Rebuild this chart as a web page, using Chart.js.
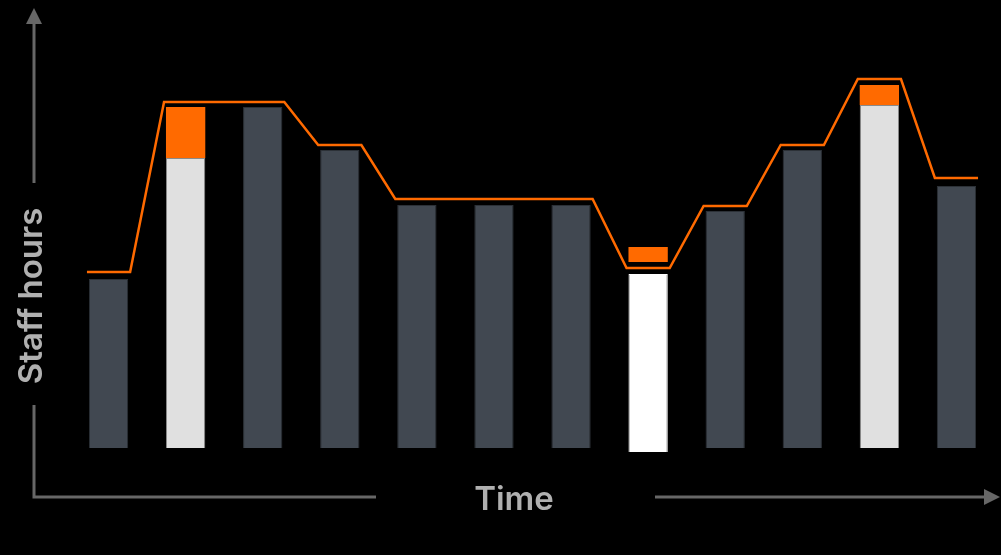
<!DOCTYPE html>
<html>
<head>
<meta charset="utf-8">
<script src="https://cdn.jsdelivr.net/npm/chart.js@4.4.1/dist/chart.umd.min.js"></script>
<style>
  html, body { margin: 0; padding: 0; background: #000; }
  #wrap { width: 1001px; height: 555px; position: relative; }
</style>
</head>
<body>
<div id="wrap"><canvas id="chart"></canvas></div>
<script>
// time slots along the x axis
const slots = ['1', '2', '3', '4', '5', '6', '7', '8', '9', '10', '11', '12'];
// kind of each slot: past / adjusted / now
const slotKind = ['past', 'adjusted', 'past', 'past', 'past', 'past', 'past', 'now', 'past', 'past', 'adjusted', 'past'];
// scheduled staff hours (bar start, bar end)
const scheduledStart = [0, 0, 0, 0, 0, 0, 0, -1, 0, 0, 0, 0];
const scheduledEnd = [42.25, 72.5, 85.25, 74.5, 60.75, 60.75, 60.75, 43.5, 59.25, 74.5, 85.75, 65.5];
// extra hours added on top (orange)
const extraStart = [null, 72.5, null, null, null, null, null, 46.5, null, null, 85.75, null];
const extraEnd = [null, 85.25, null, null, null, null, null, 50.25, null, null, 90.75, null];
// forecast demand (orange step line)
const demand = [44, 86.5, 86.5, 75.75, 62.25, 62.25, 62.25, 45, 60.5, 75.75, 92.25, 67.5];

const fillFor = { past: '#414851', adjusted: '#e0e0e0', now: '#ffffff' };
const edgeFor = { past: '#2c3137', adjusted: '#8a8a8a', now: '#ffffff' };
const ORANGE = '#ff6a00';
const GREY = '#676767';

// each demand level spans the bar width as a flat step
const demandPoints = demand.flatMap((v, i) => [{ x: i - 0.28, y: v }, { x: i + 0.28, y: v }]);

const axisArrows = {
  id: 'axisArrows',
  afterDraw(chart) {
    const c = chart.ctx;
    c.save();
    c.strokeStyle = GREY;
    c.fillStyle = GREY;
    c.lineWidth = 3;
    c.lineCap = 'butt';
    // y axis, upper part with arrow
    c.beginPath();
    c.moveTo(34, 183); c.lineTo(34, 22);
    c.stroke();
    c.beginPath();
    c.moveTo(34, 8); c.lineTo(26, 24); c.lineTo(42, 24); c.closePath();
    c.fill();
    // corner
    c.beginPath();
    c.moveTo(34, 405); c.lineTo(34, 497); c.lineTo(376, 497);
    c.stroke();
    // x axis, right part with arrow
    c.beginPath();
    c.moveTo(655, 497); c.lineTo(986, 497);
    c.stroke();
    c.beginPath();
    c.moveTo(1000, 497); c.lineTo(984, 489); c.lineTo(984, 505); c.closePath();
    c.fill();

    c.fillStyle = '#b0b0b0';
    c.font = '600 33px Inter, "Open Sans", sans-serif';
    c.textAlign = 'center';
    c.textBaseline = 'middle';
    c.fillText('Time', 514, 500);
    c.translate(32, 296);
    c.rotate(-Math.PI / 2);
    c.fillText('Staff hours', 0, 0);
    c.restore();
  }
};

new Chart(document.getElementById('chart'), {
  data: {
    labels: slots,
    datasets: [
      {
        type: 'line',
        label: 'Demand',
        data: demandPoints,
        xAxisID: 'xl',
        borderColor: ORANGE,
        borderWidth: 2.5,
        pointRadius: 0,
        tension: 0,
        fill: false,
        order: 0
      },
      {
        type: 'bar',
        label: 'Extra',
        data: extraStart.map((s, i) => s === null ? null : [s, extraEnd[i]]),
        backgroundColor: ORANGE,
        borderWidth: 0,
        grouped: false,
        order: 1
      },
      {
        type: 'bar',
        label: 'Scheduled',
        data: scheduledStart.map((s, i) => [s, scheduledEnd[i]]),
        backgroundColor: slotKind.map(k => fillFor[k]),
        borderColor: slotKind.map(k => edgeFor[k]),
        borderWidth: 1,
        grouped: false,
        order: 2
      }
    ]
  },
  options: {
    responsive: true,
    maintainAspectRatio: false,
    animation: false,
    layout: { padding: { left: 70, right: 6, top: 0, bottom: 103 } },
    datasets: { bar: { categoryPercentage: 1, barPercentage: 0.51 } },
    plugins: { legend: { display: false }, tooltip: { enabled: false } },
    scales: {
      x: { type: 'category', offset: true, display: false },
      xl: { type: 'linear', min: -0.5, max: 11.5, display: false },
      y: { min: -1, max: 112, display: false }
    }
  },
  plugins: [axisArrows]
});
</script>
</body>
</html>
